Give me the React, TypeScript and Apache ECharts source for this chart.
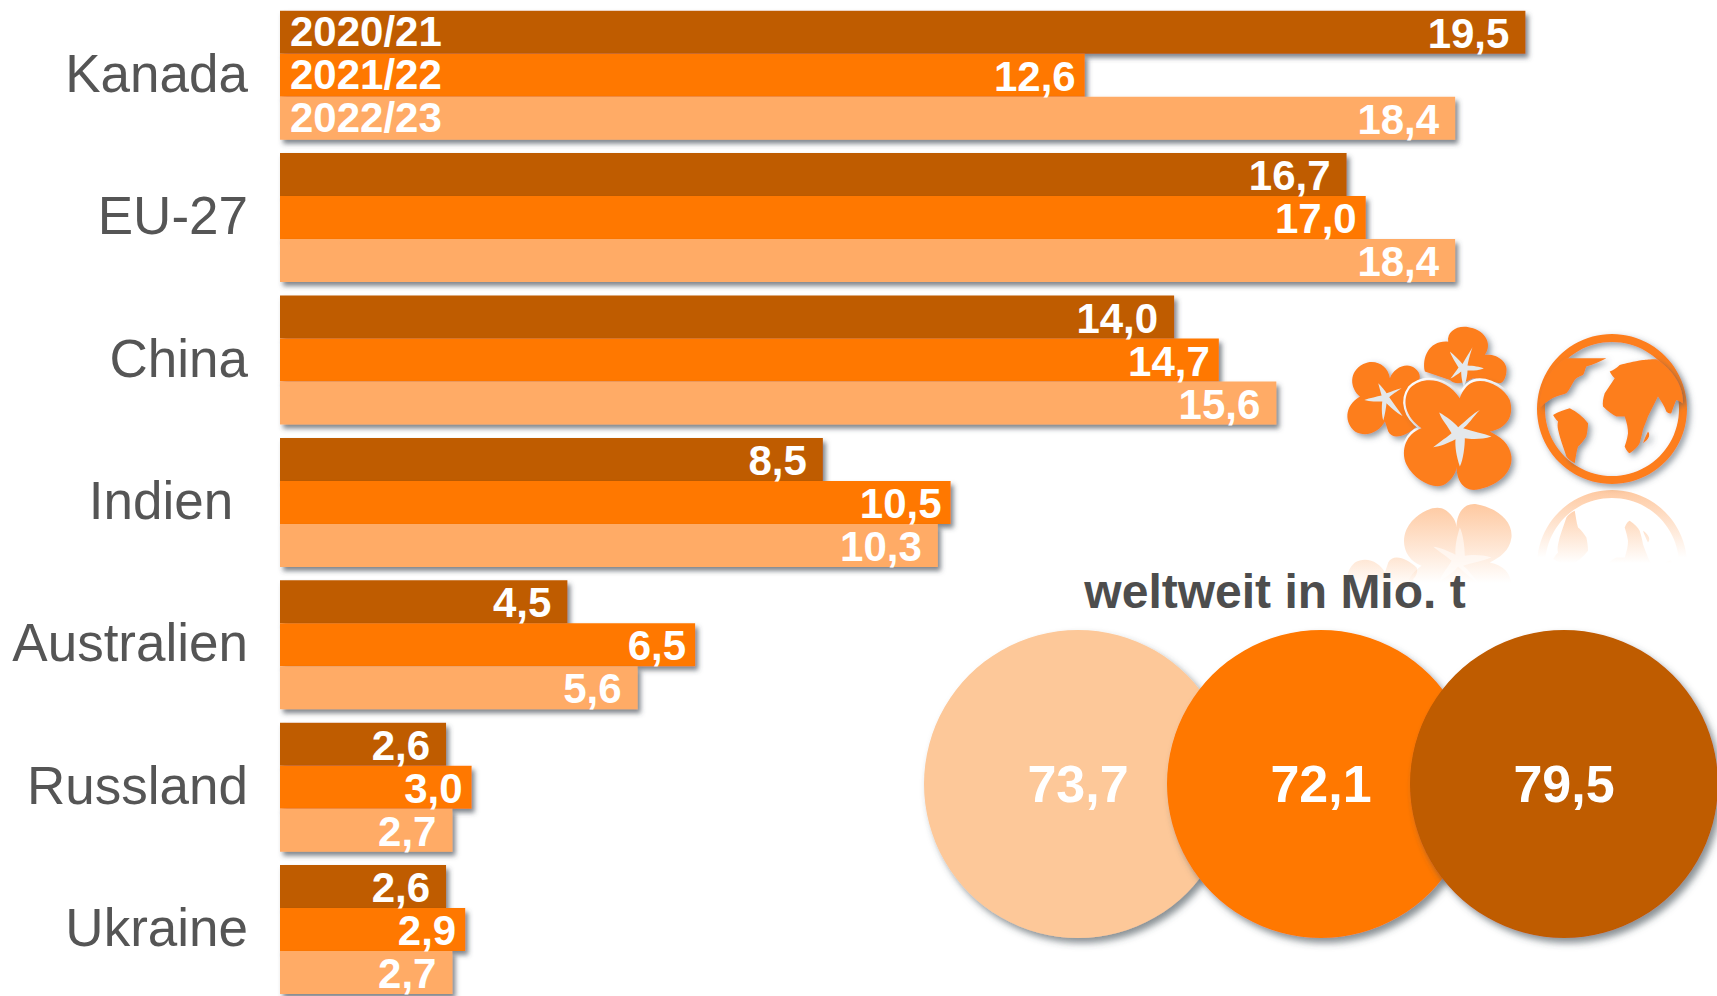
import React, { useEffect, useRef } from "react";
import * as echarts from "echarts";

const categories = ["Kanada", "EU-27", "China", "Indien ", "Australien", "Russland", "Ukraine"];
const seasons = ["2020/21", "2021/22", "2022/23"];
const values2020 = [19.5, 16.7, 14.0, 8.5, 4.5, 2.6, 2.6];
const values2021 = [12.6, 17.0, 14.7, 10.5, 6.5, 3.0, 2.9];
const values2022 = [18.4, 18.4, 15.6, 10.3, 5.6, 2.7, 2.7];
const worldLabels = ["2022/23", "2021/22", "2020/21"];
const worldValues = [73.7, 72.1, 79.5];
const barColors = ["#BF5B00", "#FF7800", "#FFAB66"];
const worldColors = ["#FDC899", "#FF7800", "#BF5B00"];
const iconColor = "#FD7E1E";

const FLOWER_BIG = "M480 295C440 235 370 225 330 265C305 300 315 350 365 385C320 400 300 450 320 495C345 545 410 575 440 550C460 535 470 515 470 500C470 540 490 575 530 570C590 560 640 520 635 470C630 430 600 410 570 395C620 385 645 350 630 300C610 255 540 225 505 255C490 270 482 285 480 295Z";
const STAR_BIG = "M540 330C520 350 505 375 490 385C520 395 550 400 575 410C545 420 510 418 495 415C495 440 490 480 480 500C470 470 465 440 467 418C445 430 420 440 400 442C420 425 445 410 455 400C445 380 425 360 418 338C440 350 465 370 475 382C495 365 520 340 540 330Z";
const FLOWER_TOP = "M445 125C440 90 480 70 520 85C565 100 575 140 555 165C590 160 625 185 620 215C618 235 610 250 600 250L520 235C500 245 470 260 450 240L375 215C365 170 390 120 445 125Z";
const STAR_TOP = "M518 142C510 165 505 185 503 197C520 198 540 200 552 206C535 213 515 212 503 212C503 225 498 250 492 262C486 245 484 225 484 215C475 222 462 232 452 236C460 225 470 212 476 203C468 190 455 170 450 155C462 165 478 180 488 192C498 175 510 155 518 142Z";
const FLOWER_LEFT = "M180 290C150 265 145 215 190 192C225 175 265 195 270 235C280 205 320 185 345 205C365 220 365 240 345 260C345 290 340 320 340 345C350 355 355 370 350 380C325 405 280 425 265 395L255 365C240 395 200 415 165 395C135 370 130 320 180 290Z";
const STAR_LEFT = "M305 265C290 275 275 285 268 292C280 310 295 330 308 348C290 340 270 320 260 310C258 325 255 345 250 362C245 345 245 320 247 305C232 305 210 305 193 300C210 295 232 290 245 287C242 275 238 262 235 250C245 260 255 272 260 280C275 275 290 268 305 265Z";
const LANDS = "M720 300C730 240 760 200 800 175L920 175C900 185 880 195 860 200C855 210 855 220 850 225C835 230 830 235 825 240C815 255 810 270 800 280C785 285 775 288 770 290C755 295 745 305 735 310L722 322ZM1070 178C1050 178 1040 180 1030 180C1000 185 980 190 960 195C950 205 940 210 930 215C935 225 940 230 945 235C935 250 925 265 915 280C910 295 908 310 910 320C925 335 940 345 950 350L975 350C982 370 985 385 985 400C982 420 978 430 975 440C980 452 985 458 990 460C1005 450 1015 440 1020 430C1025 415 1028 400 1030 390C1035 375 1040 365 1045 350C1055 330 1065 310 1075 290C1085 305 1095 320 1100 335C1105 340 1110 342 1115 340C1120 325 1125 312 1130 300C1138 303 1145 306 1150 310C1152 260 1120 210 1070 178ZM760 345C775 335 795 330 810 325C830 335 850 350 865 370C865 385 862 400 860 410C850 425 842 435 835 440C830 455 828 475 825 490C815 485 805 478 800 470C790 440 780 415 775 390C773 380 773 372 775 365C768 358 764 352 760 345ZM1045 395C1040 405 1033 420 1030 430C1038 425 1045 418 1048 410C1050 404 1048 398 1045 395Z";

echarts.graphic.registerShape("flowerBig", echarts.graphic.extendPath(FLOWER_BIG, {}));
echarts.graphic.registerShape("starBig", echarts.graphic.extendPath(STAR_BIG, {}));
echarts.graphic.registerShape("flowerTop", echarts.graphic.extendPath(FLOWER_TOP, {}));
echarts.graphic.registerShape("starTop", echarts.graphic.extendPath(STAR_TOP, {}));
echarts.graphic.registerShape("flowerLeft", echarts.graphic.extendPath(FLOWER_LEFT, {}));
echarts.graphic.registerShape("starLeft", echarts.graphic.extendPath(STAR_LEFT, {}));
echarts.graphic.registerShape("lands", echarts.graphic.extendPath(LANDS, {}));

const comma = (v: number) => v.toFixed(1).replace(".", ",");
const FONT = '"Liberation Sans", Arial, sans-serif';

const fade = (near: number, far: number) => ({
  type: "linear", x: 0, y: 0, x2: 0, y2: 1,
  colorStops: [
    { offset: far, color: "rgba(253,126,30,0)" },
    { offset: 1, color: `rgba(253,126,30,${near})` },
  ],
});

const iconShadow = { shadowBlur: 6, shadowColor: "rgba(70,85,100,0.6)", shadowOffsetX: 3, shadowOffsetY: 3 };

function icon(type: string, fill: any, extra: any = {}, reflectY?: number) {
  return {
    type, x: 1300, y: reflectY ?? 300, scaleX: 1 / 3, scaleY: reflectY ? -1 / 3 : 1 / 3, silent: true,
    style: { fill, ...extra },
  };
}

export default function App() {
  const ref = useRef<HTMLDivElement>(null);
  useEffect(() => {
    const chart = echarts.init(ref.current!, undefined, { renderer: "svg" });
    const series: any[] = [values2020, values2021, values2022].map((data, i) => ({
      name: seasons[i],
      type: "bar",
      xAxisIndex: 0,
      yAxisIndex: 0,
      barWidth: 43,
      barGap: "0%",
      data,
      itemStyle: {
        color: barColors[i], shadowBlur: 5, shadowColor: "rgba(60,70,80,0.65)", shadowOffsetX: 3, shadowOffsetY: 4,
      },
      label: {
        show: true, position: "insideRight", distance: i === 1 ? 9 : 16, offset: [0, 1],
        color: "#fff", fontFamily: FONT, fontWeight: "bold", fontSize: 42,
        formatter: (p: any) => comma(p.value),
      },
    }));
    series.push({
      name: "weltweit",
      type: "scatter",
      xAxisIndex: 1,
      yAxisIndex: 1,
      symbol: "circle",
      symbolSize: 308,
      data: worldLabels.map((s, i) => ({
        value: [s, "weltweit", worldValues[i]],
        itemStyle: { color: worldColors[i] },
      })),
      itemStyle: { opacity: 1, shadowBlur: 7, shadowColor: "rgba(60,70,80,0.6)", shadowOffsetX: 4, shadowOffsetY: 5 },
      label: {
        show: true, position: "inside", color: "#fff", fontFamily: FONT, fontWeight: "bold", fontSize: 52,
        formatter: (p: any) => comma(p.value[2]),
      },
    });

    const reflectFlower = 694;
    const reflectGlobe = 674;
    chart.setOption({
      animation: false,
      backgroundColor: "#fff",
      title: {
        text: "weltweit in Mio. t", left: 1270, top: 562, textAlign: "center",
        textStyle: { color: "#4D4D4D", fontFamily: FONT, fontWeight: "bold", fontSize: 48 },
      },
      legend: {
        orient: "vertical", left: 284, top: 10, padding: 0, itemGap: 0, itemWidth: 1, itemHeight: 43,
        selectedMode: false, icon: "rect", data: seasons,
        itemStyle: { opacity: 0, shadowBlur: 0 },
        textStyle: { color: "#fff", fontFamily: FONT, fontWeight: "bold", fontSize: 42, lineHeight: 43 },
      },
      grid: [
        { left: 280, top: 4, width: 1437, height: 996.8 },
        { left: 956.5, top: 734, width: 729, height: 100 },
      ],
      xAxis: [
        { type: "value", gridIndex: 0, min: 0, max: 22.5, show: false },
        { type: "category", gridIndex: 1, data: worldLabels, show: false },
      ],
      yAxis: [
        {
          type: "category", gridIndex: 0, data: categories, inverse: true,
          axisLine: { show: false }, axisTick: { show: false },
          axisLabel: { color: "#555", fontFamily: FONT, fontSize: 53, margin: 32, verticalAlign: "bottom", lineHeight: 4 },
        },
        { type: "category", gridIndex: 1, data: ["weltweit"], show: false },
      ],
      series,
      graphic: [
        icon("flowerTop", iconColor, { ...iconShadow }),
        icon("starTop", "#E4E8EB"),
        icon("flowerLeft", iconColor, { ...iconShadow }),
        icon("starLeft", "#E4E8EB"),
        icon("flowerBig", "#fff", { stroke: "#fff", lineWidth: 14 }),
        icon("flowerBig", iconColor, { ...iconShadow }),
        icon("starBig", "#E4E8EB"),
        {
          type: "ring", shape: { cx: 1612, cy: 409, r: 75, r0: 67 }, silent: true,
          style: { fill: iconColor, ...iconShadow },
        },
        icon("lands", iconColor, { ...iconShadow }),
        icon("flowerBig", fade(0.42, 0.28), {}, reflectFlower),
        icon("starBig", "rgba(255,255,255,0.55)", {}, reflectFlower),
        icon("flowerLeft", fade(0.2, 0.6), {}, reflectFlower),
        icon("lands", fade(0.35, 0.5), {}, reflectGlobe),
        {
          type: "ring", shape: { cx: 1612, cy: 409, r: 75, r0: 67 }, y: 2 * 487, scaleY: -1, silent: true,
          style: { fill: fade(0.42, 0.55) },
        },
      ],
    });
    return () => chart.dispose();
  }, []);
  return <div ref={ref} style={{ position: "fixed", left: 0, top: 0, width: 1717, height: 1012 }} />;
}
